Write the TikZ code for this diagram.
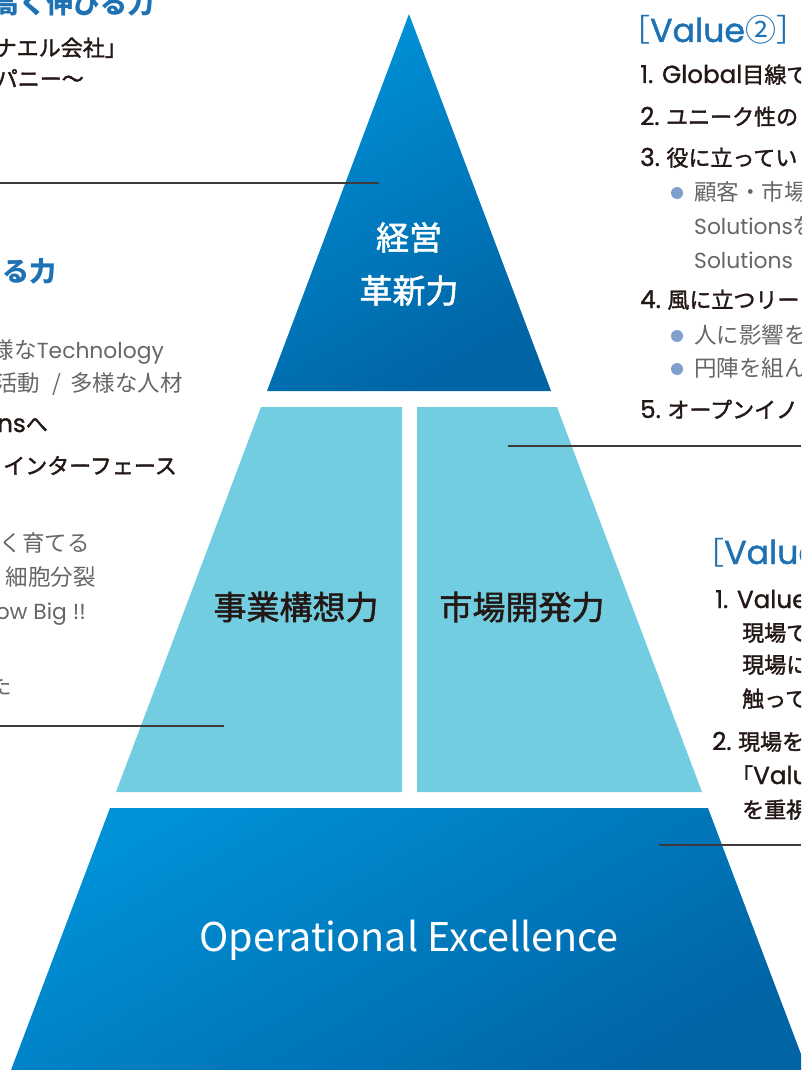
\documentclass[tikz,border=0pt]{standalone}
\usepackage{fontspec}
\setmainfont{Noto Sans CJK JP}
\newfontfamily\jpmed[FakeBold=1.6]{Noto Sans CJK JP}
\newfontfamily\en[Scale=0.97]{Poppins}
\newfontfamily\enmed[Scale=1.12, FakeBold=1.2]{Poppins}
\newfontfamily\enhead[Scale=1.07, FakeBold=1.2]{Poppins}
\usetikzlibrary{positioning,calc}

\definecolor{pyrlight}{HTML}{0091D7}
\definecolor{pyrdark}{HTML}{0064A5}
\definecolor{paneblue}{HTML}{72CDE0}
\definecolor{headblue}{HTML}{1E72B4}
\definecolor{inkdark}{HTML}{231815}
\definecolor{inkgray}{HTML}{666666}
\definecolor{dotblue}{HTML}{7F9FCD}
\definecolor{leadgray}{HTML}{3E3A39}

\begin{document}
\begin{tikzpicture}[
  x=1pt, y=-1pt,
  head/.style={font=\bfseries\fontsize{27}{30}\selectfont, text=headblue, inner sep=0pt},
  valhead/.style={font=\fontsize{31}{34}\selectfont, text=headblue, inner sep=0pt},
  item/.style={font=\jpmed\fontsize{22}{26}\selectfont, text=inkdark, inner sep=0pt},
  note/.style={font=\fontsize{22.5}{26}\selectfont, text=inkgray, inner sep=0pt},
  tier/.style={font=\jpmed\fontsize{33}{53}\selectfont, align=center, inner sep=0pt},
  dot/.style={circle, fill=dotblue, minimum size=12pt, inner sep=0pt},
  lead/.style={draw=leadgray, line width=1.1pt}
]
  \useasboundingbox (0,0) rectangle (801,1070);
  \clip (0,0) rectangle (801,1070);

  % Pyramid
  \shade[top color=pyrlight, bottom color=pyrdark, shading angle=30]
    (409,14) -- (551,391) -- (267,391) -- cycle;
  \fill[paneblue] (261,407) -- (402,407) -- (402,792) -- (116,792) -- cycle;
  \fill[paneblue] (417,407) -- (557,407) -- (702,792) -- (417,792) -- cycle;
  \shade[top color=pyrlight, bottom color=pyrdark, shading angle=30]
    (110,808) -- (708,808) -- (807,1070) -- (11,1070) -- cycle;

  % Tier labels
  \node[tier, text=white] (mgmt) at (409,264) {経営\\革新力};
  \node[tier, text=inkdark] (plan) at (296,607) {事業構想力};
  \node[tier, text=inkdark] (mkt)  at (522,607) {市場開発力};
  \node[tier, text=white, font=\fontsize{39.5}{44}\selectfont] (opex) at (409,940)
    {Operational Excellence};

  % Left column (cut at the left edge)
  \node[head, anchor=base east] (lhead1) at (155,14) {高く伸びる力};
  \node[item, anchor=base east] (l1) at (127,56) {ナエル会社」};
  \node[item, anchor=base east] (l2) at (84,87) {パニー〜};
  \node[head, anchor=base east] (lhead2) at (57,281) {る力};
  \node[note, anchor=base east] (l3) at (164,358) {様な{\en Technology}};
  \node[note, anchor=base east] (l4) at (183,391)
    {活動\hspace{12pt}/\hspace{9pt}多様な人材};
  \node[item, anchor=base east] (l5) at (48,432) {{\enmed ns}へ};
  \node[item, anchor=base east] (l6) at (177,474) {インターフェース};
  \node[note, anchor=base east] (l7) at (90,551) {きく育てる};
  \node[note, anchor=base east] (l8) at (96,585) {細胞分裂};
  \node[note, anchor=base east] (l9) at (86,619) {\en ow Big !!};
  \node[note, anchor=base east] (l10) at (12,694) {た};

  % Right column, Value 2 (cut at the right edge)
  \node[valhead, anchor=base west] (rhead1) at (619,42) {［{\enhead Value}②］};
  \node[item, anchor=base west] (r1) at (640,83) {{\enmed 1. Global}目線で};
  \node[item, anchor=base west] (r2) at (640,125) {{\enmed 2.} ユニーク性の};
  \node[item, anchor=base west] (r3) at (640,166) {{\enmed 3.} 役に立ってい};
  \node[dot] (d1) at (677,193) {};
  \node[note, anchor=base west] (r3a) at (694,200) {顧客・市場};
  \node[note, anchor=base west] (r3b) at (694,234) {{\en Solutions}を};
  \node[note, anchor=base west] (r3c) at (694,268) {\en Solutions};
  \node[item, anchor=base west] (r4) at (640,308) {{\enmed 4.} 風に立つリー};
  \node[dot] (d2) at (677,336) {};
  \node[note, anchor=base west] (r4a) at (694,343) {人に影響を};
  \node[dot] (d3) at (677,369) {};
  \node[note, anchor=base west] (r4b) at (694,376) {円陣を組ん};
  \node[item, anchor=base west] (r5) at (640,418) {{\enmed 5.} オープンイノ};

  % Right column, Value 1
  \node[valhead, anchor=base west] (rhead2) at (693,564) {［{\enhead Value}};
  \node[item, anchor=base west] (s1) at (715,608) {\enmed 1. Value};
  \node[item, anchor=base west] (s1a) at (742,641) {現場で};
  \node[item, anchor=base west] (s1b) at (742,673) {現場に};
  \node[item, anchor=base west] (s1c) at (742,707) {触って};
  \node[item, anchor=base west] (s2) at (712,750) {{\enmed 2.} 現場を};
  \node[item, anchor=base west] (s2a) at (731,784) {「{\enmed Valu}};
  \node[item, anchor=base west] (s2b) at (742,818) {を重視};

  % Leader lines
  \coordinate (a1) at (0,183);   \coordinate (b1) at (379,183);
  \coordinate (a2) at (0,726);   \coordinate (b2) at (224,726);
  \coordinate (a3) at (801,446); \coordinate (b3) at (508,446);
  \coordinate (a4) at (801,845); \coordinate (b4) at (659,845);
  \draw[lead] (a1) -- (b1);
  \draw[lead] (a2) -- (b2);
  \draw[lead] (a3) -- (b3);
  \draw[lead] (a4) -- (b4);

\end{tikzpicture}
\end{document}
